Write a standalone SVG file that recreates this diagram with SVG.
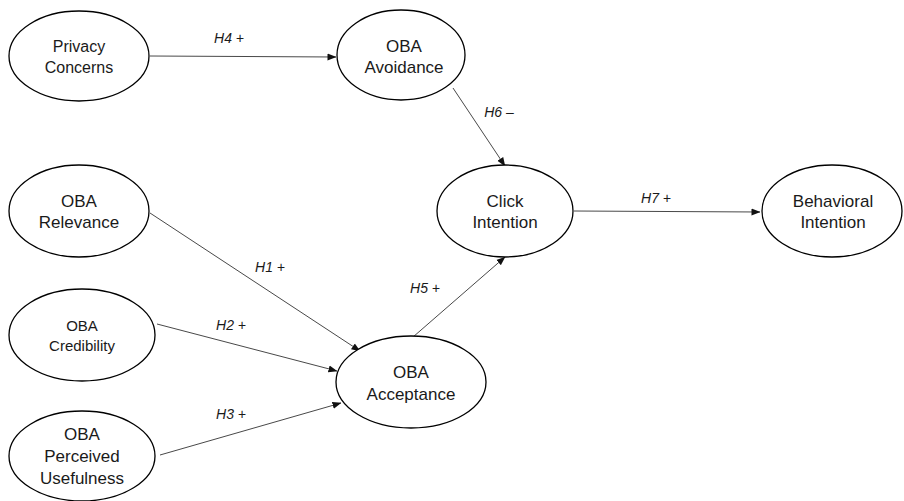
<svg xmlns="http://www.w3.org/2000/svg" width="904" height="501" viewBox="0 0 904 501">
<style>
ellipse{fill:#fff;stroke:#000;stroke-width:1.3}
.t{font-family:"Liberation Sans",Arial,sans-serif;font-size:17px;text-anchor:middle;fill:#1a1a1a}
.s{font-size:15px}
.l{font-family:"Liberation Sans",Arial,sans-serif;font-size:14px;font-style:italic;fill:#1a1a1a;text-anchor:middle}
.c{stroke:#333;stroke-width:0.9;fill:none;marker-end:url(#a)}
</style>
<defs>
<marker id="a" markerWidth="9" markerHeight="8" refX="8.5" refY="4" orient="auto" markerUnits="userSpaceOnUse">
<path d="M0,0.5 L9,4 L0,7.5 Z" fill="#111"/>
</marker>
</defs>
<rect width="904" height="501" fill="#fff"/>
<g id="connectors">
<line class="c" x1="150" y1="56" x2="336" y2="57"/>
<line class="c" x1="453" y1="88" x2="505" y2="166"/>
<line class="c" x1="574" y1="211" x2="760" y2="212"/>
<line class="c" x1="150" y1="213" x2="360" y2="351"/>
<line class="c" x1="157" y1="324" x2="337" y2="371"/>
<line class="c" x1="160" y1="455" x2="341" y2="403"/>
<line class="c" x1="413" y1="337" x2="505" y2="257"/>
<text class="l" x="229" y="43">H4 +</text>
<text class="l" x="499" y="117">H6 –</text>
<text class="l" x="656" y="203">H7 +</text>
<text class="l" x="270" y="272">H1 +</text>
<text class="l" x="231" y="330">H2 +</text>
<text class="l" x="231" y="419">H3 +</text>
<text class="l" x="425" y="293">H5 +</text>
</g>
<g id="privacy-concerns">
<ellipse cx="79" cy="56" rx="70" ry="45"/>
<text class="t" x="79" y="52" style="font-size:16px">Privacy</text>
<text class="t" x="79" y="73" style="font-size:16px">Concerns</text>
</g>
<g id="oba-avoidance">
<ellipse cx="401" cy="55" rx="64" ry="45"/>
<text class="t" x="404" y="52">OBA</text>
<text class="t" x="404" y="73">Avoidance</text>
</g>
<g id="click-intention">
<ellipse cx="505" cy="211" rx="68" ry="46"/>
<text class="t" x="505" y="207">Click</text>
<text class="t" x="505" y="228">Intention</text>
</g>
<g id="behavioral-intention">
<ellipse cx="832" cy="211" rx="70" ry="46"/>
<text class="t" x="833" y="207">Behavioral</text>
<text class="t" x="833" y="228">Intention</text>
</g>
<g id="oba-relevance">
<ellipse cx="79" cy="211" rx="70" ry="46"/>
<text class="t" x="79" y="207">OBA</text>
<text class="t" x="79" y="228">Relevance</text>
</g>
<g id="oba-credibility">
<ellipse cx="82" cy="335" rx="73" ry="46"/>
<text class="t s" x="82" y="331">OBA</text>
<text class="t s" x="82" y="351">Credibility</text>
</g>
<g id="oba-perceived-usefulness">
<ellipse cx="82" cy="456" rx="73" ry="45"/>
<text class="t" x="82" y="440">OBA</text>
<text class="t" x="82" y="462">Perceived</text>
<text class="t" x="82" y="484">Usefulness</text>
</g>
<g id="oba-acceptance">
<ellipse cx="411" cy="382" rx="75" ry="46"/>
<text class="t" x="411" y="378">OBA</text>
<text class="t" x="411" y="400">Acceptance</text>
</g>
</svg>
